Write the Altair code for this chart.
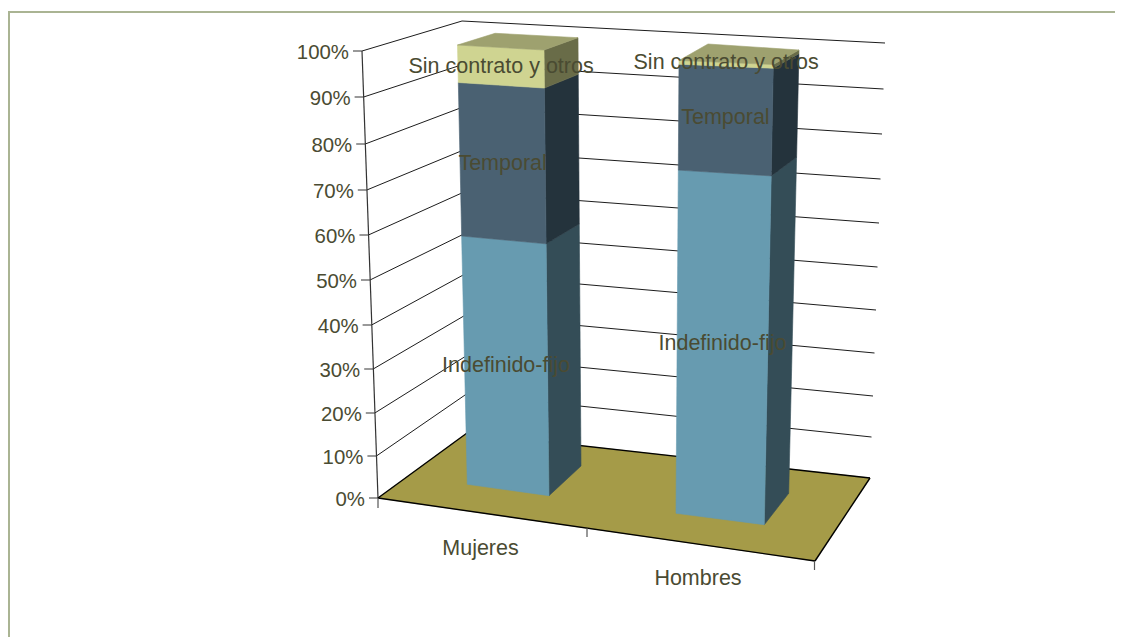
import numpy as np
import pandas as pd
import altair as alt

# ---- values ----
categories = ["Mujeres", "Hombres"]
series = ["Indefinido-fijo", "Temporal", "Sin contrato y otros"]
indefinido = [57.7, 76.7]
temporal = [34.0, 22.5]
sin_contrato = [8.3, 0.8]
pct_ticks = [0, 10, 20, 30, 40, 50, 60, 70, 80, 90, 100]
tick_labels = ["0%", "10%", "20%", "30%", "40%", "50%", "60%", "70%", "80%", "90%", "100%"]

# ---- picture geometry (perspective of the 3D box) ----
W, H = 1107, 629
axis_y = [498, 456, 413, 369, 325, 280, 235, 190, 144, 97, 51]
back_left_y = [433, 394, 356, 315, 274, 233.7, 192, 150, 107, 64.6, 21]
back_right_y = [478, 437, 396, 353, 310, 267, 223, 179, 134, 89, 43]
profile = [(axis_y[0] - v) / (axis_y[0] - axis_y[-1]) for v in axis_y]


def lerp(a, b, t):
    return a + (b - a) * t


def axis_x(p):
    return lerp(378, 362, p / 100)


def back_left_x(p):
    return lerp(467, 462, p / 100)


def back_right_x(p):
    return lerp(870, 885, p / 100)


# corner -> (x at 0 %, y at 0 %, x at 100 %, y at 100 %)
bar_geom = {
    "Mujeres": {
        "FL": (467.3, 484.3, 457.5, 45.0), "FR": (549.0, 495.7, 544.0, 50.0),
        "BR": (581.0, 466.0, 578.0, 37.7), "BL": (499.0, 455.0, 495.0, 33.3),
    },
    "Hombres": {
        "FL": (676.0, 513.3, 679.0, 60.5), "FR": (764.3, 524.7, 773.3, 64.5),
        "BR": (788.7, 493.3, 799.0, 50.0), "BL": (700.0, 482.0, 708.0, 44.0),
    },
}
label_shift = {"Mujeres": 1.0, "Hombres": -1.8}


def corner(cat, name, p):
    x0, y0, x1, y1 = bar_geom[cat][name]
    f = float(np.interp(p, pct_ticks, profile))
    return (lerp(x0, x1, p / 100), lerp(y0, y1, f))


X = alt.X("x:Q", axis=None, scale=alt.Scale(domain=[8, 8 + W], nice=False, zero=False))
Y = alt.Y("y:Q", axis=None, scale=alt.Scale(domain=[8 + H, 8], nice=False, zero=False))


def polygon(pts, color):
    pts = list(pts) + [pts[0]]
    df = pd.DataFrame({"x": [p[0] for p in pts], "y": [p[1] for p in pts], "i": range(len(pts))})
    return alt.Chart(df).mark_line(fill=color, stroke=color, strokeWidth=0.6).encode(
        x=X, y=Y, order="i:Q"
    )


def segment(a, b, color, width=1.0):
    df = pd.DataFrame({"x": [a[0], b[0]], "y": [a[1], b[1]], "i": [0, 1]})
    return alt.Chart(df).mark_line(stroke=color, strokeWidth=width).encode(
        x=X, y=Y, order="i:Q"
    )


TEXT = "#4A4B32"
FONT = "Liberation Sans"
FS_LABEL = 21.5
FS_TICK = 20.4
FRAME = "#AAB493"
FLOOR = "#A59B48"
GRID = "#1c1c1c"
AXIS = "#555555"
front = ["#679BB0", "#4A6172", "#CFD491"]
side = ["#344D57", "#24333C", "#696C48"]
top_color = "#9EA16F"

layers = [
    segment((9, 12), (9, 8 + H), FRAME, 2),
    segment((8, 12), (8 + W, 12), FRAME, 2),
]

# walls
for k, p in enumerate(pct_ticks):
    if k > 0:
        layers.append(segment((back_left_x(p), back_left_y[k]), (back_right_x(p), back_right_y[k]), GRID))
        layers.append(segment((axis_x(p), axis_y[k]), (back_left_x(p), back_left_y[k]), GRID))
    layers.append(segment((axis_x(p) - 9, axis_y[k]), (axis_x(p), axis_y[k]), AXIS, 1.2))

layers.append(segment((axis_x(0), axis_y[0]), (axis_x(100), axis_y[-1]), "#333333", 1.2))

# floor and category ticks
floor = [(378, 498), (815, 561), (870, 478), (467, 433)]
layers.append(polygon(floor, FLOOR))
for a, b in zip(floor, floor[1:]):
    layers.append(segment(a, b, "#000000", 1.4))
layers.append(segment(floor[3], floor[0], "#000000", 1.4))
layers.append(segment((378, 498), (378, 508), AXIS, 1.2))
layers.append(segment((587, 528), (587, 537), AXIS, 1.2))
layers.append(segment((814.5, 561), (814.5, 570), AXIS, 1.2))

# bars
labels_rows = []
for c, cat in enumerate(categories):
    vals = [indefinido[c], temporal[c], sin_contrato[c]]
    base = 0.0
    for s, v in enumerate(vals):
        top = base + v
        fl0, fr0, br0 = corner(cat, "FL", base), corner(cat, "FR", base), corner(cat, "BR", base)
        fl1, fr1, br1 = corner(cat, "FL", top), corner(cat, "FR", top), corner(cat, "BR", top)
        layers.append(polygon([fr0, br0, br1, fr1], side[s]))
        layers.append(polygon([fl0, fr0, fr1, fl1], front[s]))
        labels_rows.append({
            "x": (fl0[0] + fr0[0] + fl1[0] + fr1[0]) / 4,
            "y": (fl0[1] + fr0[1] + fl1[1] + fr1[1]) / 4 + label_shift[cat],
            "t": series[s],
        })
        base = top
    layers.append(polygon([corner(cat, n, base) for n in ("FL", "FR", "BR", "BL")], top_color))

# labels
label_kw = dict(font=FONT, fontSize=FS_LABEL, color=TEXT, baseline="middle")
tick_kw = dict(font=FONT, fontSize=FS_TICK, color=TEXT, baseline="middle")
layers.append(alt.Chart(pd.DataFrame(labels_rows)).mark_text(align="center", **label_kw).encode(x=X, y=Y, text="t:N"))
tick_df = pd.DataFrame({
    "x": [axis_x(p) - 13 for p in pct_ticks],
    "y": [v + 1.5 for v in axis_y],
    "t": tick_labels,
})
layers.append(alt.Chart(tick_df).mark_text(align="right", **tick_kw).encode(x=X, y=Y, text="t:N"))
cat_df = pd.DataFrame({"x": [480.5, 698], "y": [549, 579], "t": categories})
layers.append(alt.Chart(cat_df).mark_text(align="center", **label_kw).encode(x=X, y=Y, text="t:N"))

chart = alt.layer(*layers).properties(
    width=W, height=H, padding=0, background="white",
    autosize=alt.AutoSizeParams(type="none"),
).configure_view(stroke=None)

chart.save("out.html", embed_options={"renderer": "svg", "actions": False})
